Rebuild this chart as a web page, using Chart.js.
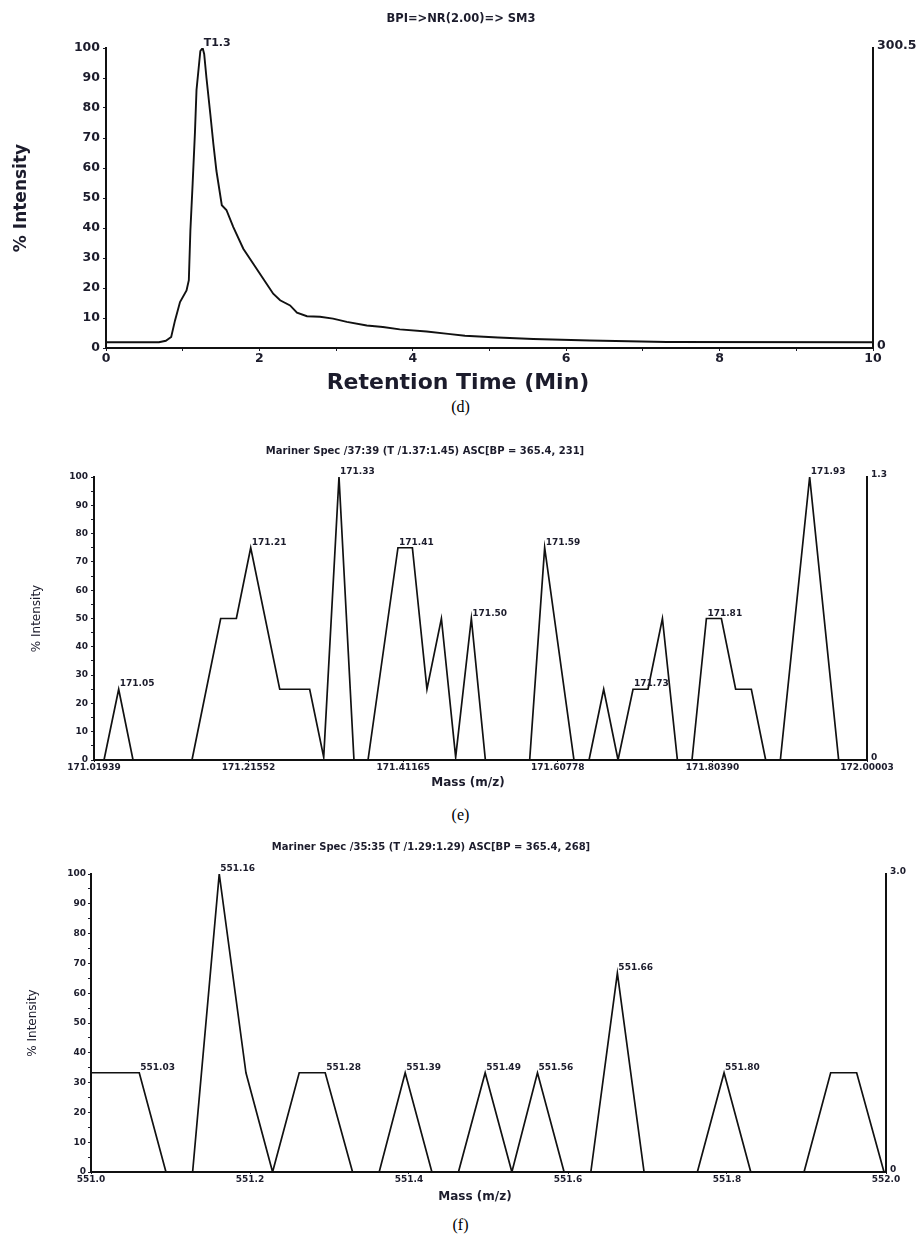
<!DOCTYPE html>
<html>
<head>
<meta charset="utf-8">
<script src="https://cdn.jsdelivr.net/npm/chart.js@4.4.1/dist/chart.umd.min.js"></script>
<style>
  body { margin: 0; background: #fff; }
  #page { position: relative; width: 921px; height: 1239px; }
  .panel { position: absolute; left: 0; }
  .caption { position: absolute; left: 0; width: 921px; text-align: center; font: 16px "Liberation Serif", serif; color: #000; line-height: 18px; }
</style>
</head>
<body>
<div id="page">
  <canvas id="chartD" class="panel" style="top:0" width="921" height="395"></canvas>
  <div class="caption" style="top:398px">(d)</div>
  <canvas id="chartE" class="panel" style="top:420px" width="921" height="380"></canvas>
  <div class="caption" style="top:806px">(e)</div>
  <canvas id="chartF" class="panel" style="top:820px" width="921" height="390"></canvas>
  <div class="caption" style="top:1216px">(f)</div>
</div>
<script>
// (d) base peak chromatogram
const retTime = [0, 0.69, 0.78, 0.85, 0.9, 0.965, 1.05, 1.08, 1.1, 1.13, 1.16, 1.18, 1.23, 1.26, 1.28, 1.31, 1.36, 1.4, 1.44, 1.51, 1.57, 1.66, 1.79, 1.92, 2.05, 2.18, 2.27, 2.4, 2.49, 2.62, 2.79, 2.96, 3.14, 3.4, 3.61, 3.83, 4.18, 4.46, 4.68, 5.11, 5.57, 6.31, 7.31, 10];
const bpiIntensity = [1.9, 1.9, 2.4, 3.7, 9.2, 15.3, 19.2, 22.6, 39, 55, 72, 86, 99, 100, 98, 90, 78, 68, 59, 47.6, 46, 40.3, 33.1, 28.1, 23.1, 18.1, 15.9, 14.2, 11.8, 10.6, 10.4, 9.8, 8.7, 7.5, 7, 6.2, 5.5, 4.7, 4.1, 3.5, 3.0, 2.5, 2.0, 1.9];
const dPeakTime = [1.26];
const dPeakInt = [100];
const dPeakText = ['T1.3'];
const dRightLabels = ['0', '300.5'];

// (e) spectrum 37:39
const mzE = [171.01939, 171.0321, 171.0507, 171.0689, 171.1437, 171.1801, 171.2000, 171.2182, 171.2550, 171.2930, 171.3108, 171.3302, 171.3492, 171.3670, 171.4050, 171.4233, 171.4418, 171.4601, 171.4782, 171.4981, 171.5159, 171.5721, 171.5911, 171.6283, 171.6474, 171.6660, 171.6842, 171.7032, 171.7222, 171.7405, 171.7595, 171.7780, 171.7963, 171.8153, 171.8334, 171.8533, 171.8715, 171.8901, 171.9273, 171.9641, 172.00003];
const intE = [0, 0, 25, 0, 0, 50, 50, 75, 25, 25, 1, 100, 0, 0, 75, 75, 25, 50, 1, 50, 0, 0, 75, 0, 0, 25, 0, 25, 25, 50, 0, 0, 50, 50, 25, 25, 0, 0, 100, 0, 0];
const eTickMz = [171.01939, 171.21552, 171.41165, 171.60778, 171.80390, 172.00003];
const eTickLabels = ['171.01939', '171.21552', '171.41165', '171.60778', '171.80390', '172.00003'];
const ePeakMz = [171.0507, 171.2182, 171.3302, 171.4050, 171.4981, 171.5911, 171.7032, 171.7963, 171.9273];
const ePeakInt = [25, 75, 100, 75, 50, 75, 25, 50, 100];
const ePeakText = ['171.05', '171.21', '171.33', '171.41', '171.50', '171.59', '171.73', '171.81', '171.93'];
const eRightLabels = ['0', '1.3'];

// (f) spectrum 35:35
const mzF = [551.0, 551.0607, 551.0943, 551.1278, 551.1613, 551.1949, 551.2284, 551.2619, 551.2946, 551.3290, 551.3625, 551.3952, 551.4288, 551.4622, 551.4958, 551.5294, 551.5616, 551.5951, 551.6287, 551.6621, 551.6957, 551.7627, 551.7963, 551.8299, 551.8969, 551.9304, 551.9631, 551.9975, 552.0];
const intF = [33.3, 33.3, 0, 0, 100, 33.3, 0, 33.3, 33.3, 0, 0, 33.3, 0, 0, 33.3, 0, 33.3, 0, 0, 66.7, 0, 0, 33.3, 0, 0, 33.3, 33.3, 0, 0];
const fTickMz = [551.0, 551.2, 551.4, 551.6, 551.8, 552.0];
const fTickLabels = ['551.0', '551.2', '551.4', '551.6', '551.8', '552.0'];
const fPeakMz = [551.0607, 551.1613, 551.2946, 551.3952, 551.4958, 551.5616, 551.6621, 551.7963];
const fPeakInt = [33.3, 100, 33.3, 33.3, 33.3, 33.3, 66.7, 33.3];
const fPeakText = ['551.03', '551.16', '551.28', '551.39', '551.49', '551.56', '551.66', '551.80'];
const fRightLabels = ['0', '3.0'];

const FAMILY = '"DejaVu Sans", sans-serif';
const INK = '#1c1c2c';
const LINE = '#111111';

const fixedSize = px => scale => {
    if (scale.isHorizontal()) scale.height = px;
    else scale.width = px;
};

// titles, axis caption and peak annotations drawn on top of the chart
function textLayer(items, peaks) {
    return {
        id: 'textLayer',
        afterDraw(chart) {
            const ctx = chart.ctx;
            const xs = chart.scales.x, ys = chart.scales.y;
            ctx.save();
            ctx.fillStyle = INK;
            ctx.textAlign = 'center';
            ctx.textBaseline = 'middle';
            items.forEach(t => {
                ctx.font = t.font;
                ctx.fillText(t.text, t.x, t.y);
            });
            ctx.textAlign = 'left';
            ctx.textBaseline = 'alphabetic';
            ctx.font = peaks.font;
            peaks.text.forEach((s, i) => {
                ctx.fillText(s, xs.getPixelForValue(peaks.x[i]) + 1, ys.getPixelForValue(peaks.y[i]) - peaks.gap);
            });
            ctx.restore();
        }
    };
}

function buildChart(id, p) {
    const points = p.xs.map((x, i) => ({ x: x, y: p.ys[i] }));
    return new Chart(document.getElementById(id), {
        type: 'line',
        data: {
            datasets: [{
                data: points,
                borderColor: LINE,
                borderWidth: p.lineWidth,
                pointRadius: 0,
                tension: 0,
                fill: false
            }]
        },
        options: {
            responsive: false,
            animation: false,
            events: [],
            layout: { padding: { top: p.top, left: 0, right: 0, bottom: 0 } },
            plugins: { legend: { display: false }, tooltip: { enabled: false } },
            scales: {
                x: {
                    type: 'linear',
                    min: p.xMin,
                    max: p.xMax,
                    afterFit: fixedSize(p.xAxisH),
                    afterBuildTicks: p.xTicks ? (s => { s.ticks = p.xTicks.map(v => ({ value: v })); }) : undefined,
                    ticks: {
                        stepSize: p.xStep,
                        autoSkip: false,
                        maxRotation: 0,
                        padding: 0,
                        color: INK,
                        font: p.tickFont,
                        callback: p.xLabel
                    },
                    grid: { display: true, drawOnChartArea: false, drawTicks: true, tickLength: p.xTickLen, color: INK },
                    border: { display: true, color: LINE, width: p.axisWidth }
                },
                y: {
                    type: 'linear',
                    position: 'left',
                    min: 0,
                    max: 100,
                    afterFit: fixedSize(p.yAxisW),
                    ticks: {
                        stepSize: p.yStep,
                        autoSkip: false,
                        padding: p.yTickPad,
                        color: INK,
                        font: p.tickFont,
                        callback: v => (v % 10 === 0 ? String(v) : '')
                    },
                    grid: { display: true, drawOnChartArea: false, drawTicks: true, tickLength: 3, color: INK },
                    border: { display: true, color: LINE, width: p.axisWidth },
                    title: {
                        display: true,
                        text: '% Intensity',
                        color: INK,
                        font: p.yTitleFont,
                        padding: { top: p.yTitlePad, bottom: 0 }
                    }
                },
                y2: {
                    type: 'linear',
                    position: 'right',
                    min: 0,
                    max: 100,
                    afterFit: fixedSize(921 - p.right),
                    afterBuildTicks: s => { s.ticks = [{ value: 0 }, { value: 100 }]; },
                    ticks: {
                        padding: 4,
                        labelOffset: -2,
                        color: INK,
                        font: p.rightFont,
                        callback: (v, i) => p.rightLabels[i]
                    },
                    grid: { display: false, drawTicks: false },
                    border: { display: true, color: LINE, width: p.axisWidth }
                }
            }
        },
        plugins: [textLayer(p.texts, p.peaks)]
    });
}

buildChart('chartD', {
    xs: retTime, ys: bpiIntensity,
    xMin: 0, xMax: 10, xStep: 1, xTicks: null,
    xLabel: v => (v % 2 === 0 ? String(v) : ''),
    top: 48, right: 873, xAxisH: 47, yAxisW: 106,
    xTickLen: 3, yStep: 10, yTickPad: 3,
    lineWidth: 1.9, axisWidth: 2,
    tickFont: { family: FAMILY, size: 12.5, weight: 'bold' },
    rightFont: { family: FAMILY, size: 12.5, weight: 'bold' },
    yTitleFont: { family: FAMILY, size: 17, weight: 'bold' },
    yTitlePad: 11,
    rightLabels: dRightLabels,
    texts: [
        { text: 'BPI=>NR(2.00)=> SM3', x: 461, y: 19, font: 'bold 11.5px ' + FAMILY },
        { text: 'Retention Time (Min)', x: 458, y: 383, font: 'bold 22px ' + FAMILY }
    ],
    peaks: { x: dPeakTime, y: dPeakInt, text: dPeakText, font: 'bold 11px ' + FAMILY, gap: 2 }
});

buildChart('chartE', {
    xs: mzE, ys: intE,
    xMin: 171.01939, xMax: 172.00003, xStep: undefined, xTicks: eTickMz,
    xLabel: (v, i) => eTickLabels[i],
    top: 57, right: 867, xAxisH: 40, yAxisW: 94,
    xTickLen: 2, yStep: 5, yTickPad: 3,
    lineWidth: 1.7, axisWidth: 2,
    tickFont: { family: FAMILY, size: 9, weight: 'bold' },
    rightFont: { family: FAMILY, size: 9, weight: 'bold' },
    yTitleFont: { family: FAMILY, size: 12 },
    yTitlePad: 30,
    rightLabels: eRightLabels,
    texts: [
        { text: 'Mariner Spec /37:39 (T /1.37:1.45) ASC[BP = 365.4, 231]', x: 425, y: 31, font: 'bold 10px ' + FAMILY },
        { text: 'Mass (m/z)', x: 468, y: 363, font: 'bold 12px ' + FAMILY }
    ],
    peaks: { x: ePeakMz, y: ePeakInt, text: ePeakText, font: 'bold 9px ' + FAMILY, gap: 3 }
});

buildChart('chartF', {
    xs: mzF, ys: intF,
    xMin: 551.0, xMax: 552.0, xStep: undefined, xTicks: fTickMz,
    xLabel: (v, i) => fTickLabels[i],
    top: 54, right: 886, xAxisH: 38, yAxisW: 91,
    xTickLen: 2, yStep: 5, yTickPad: 2,
    lineWidth: 1.7, axisWidth: 2,
    tickFont: { family: FAMILY, size: 9, weight: 'bold' },
    rightFont: { family: FAMILY, size: 9, weight: 'bold' },
    yTitleFont: { family: FAMILY, size: 12 },
    yTitlePad: 26,
    rightLabels: fRightLabels,
    texts: [
        { text: 'Mariner Spec /35:35 (T /1.29:1.29) ASC[BP = 365.4, 268]', x: 431, y: 27, font: 'bold 10px ' + FAMILY },
        { text: 'Mass (m/z)', x: 475, y: 377, font: 'bold 12px ' + FAMILY }
    ],
    peaks: { x: fPeakMz, y: fPeakInt, text: fPeakText, font: 'bold 9px ' + FAMILY, gap: 3 }
});
</script>
</body>
</html>
